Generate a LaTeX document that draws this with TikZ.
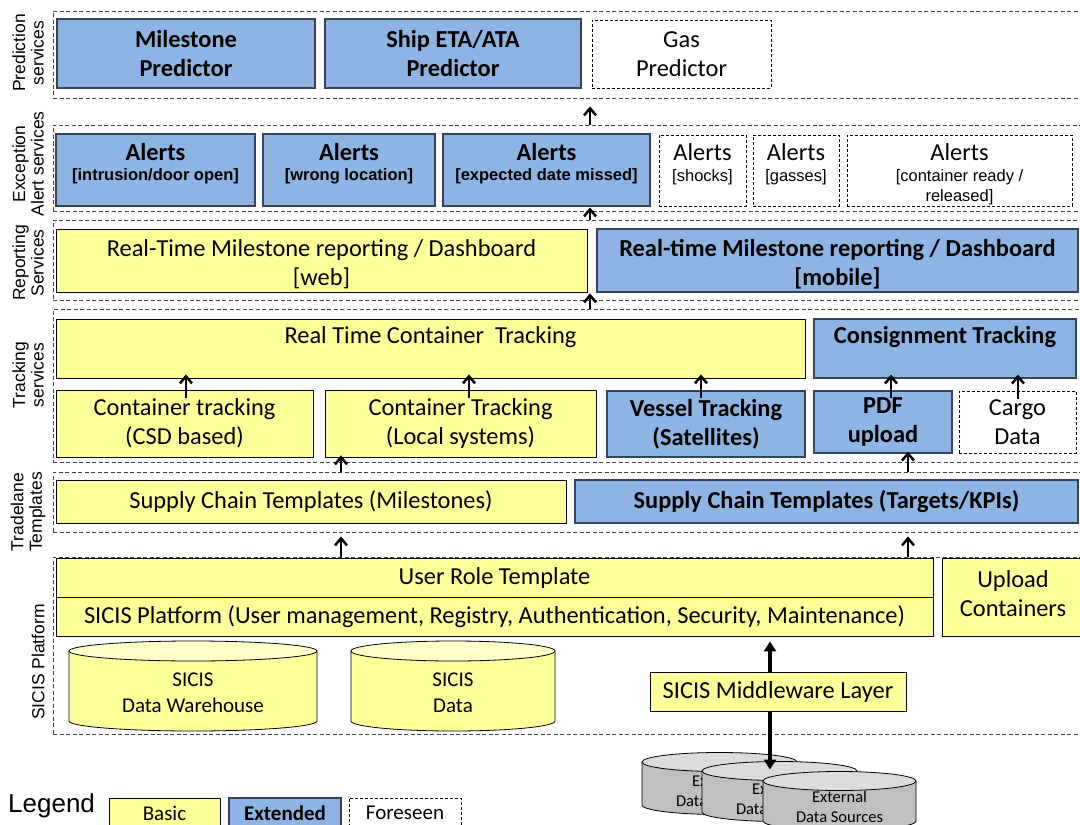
\documentclass[tikz,border=0pt]{standalone}
\usepackage{fontspec}
\setmainfont{Carlito}
\newfontfamily\arialf{Liberation Sans}
\usetikzlibrary{arrows.meta}
\definecolor{ybasic}{HTML}{FFFF99}
\definecolor{bext}{HTML}{8DB4E2}
\definecolor{gext}{HTML}{C0C0C0}
\definecolor{bdr}{HTML}{374358}
\newcommand\mainf{\fontsize{24.4}{29}\selectfont}
\newcommand\bx[7]{\node[#2, minimum width={(#5)-(#3)}, minimum height={(#6)-(#4)}] (#1) at ({((#3)+(#5))/2},{((#4)+(#6))/2}) {#7};}
\newcommand\cyl[7]{%
  \pgfmathsetmacro\crx{((#3)-(#2))/2}%
  \filldraw[fill=#6, draw=black, line width=0.8pt] (#2,#4) -- (#2,#5) arc[start angle=180, end angle=360, x radius=\crx pt, y radius=#7pt] -- (#3,#4);
  \filldraw[fill=#6!55!white, draw=black, line width=0.8pt] ({((#2)+(#3))/2},#4) ellipse[x radius=\crx pt, y radius=#7pt];
  \coordinate (#1) at ({((#2)+(#3))/2},{((#4)+(#5))/2});
  \coordinate (#1-top) at ({((#2)+(#3))/2},{(#4)-(#7)});
}
\tikzset{
  bsc/.style={draw=black, fill=ybasic, line width=0.8pt, inner sep=0pt, align=center},
  xtd/.style={draw=bdr, fill=bext, line width=1.3pt, inner sep=0pt, align=center, font=\mainf\bfseries},
  fsn/.style={draw=black, dash pattern=on 3pt off 2pt, line width=0.8pt, inner sep=0pt, align=center},
  lyr/.style={draw=black!75, dash pattern=on 4pt off 2.5pt, line width=0.9pt, inner sep=0pt},
  arr/.style={-{Straight Barb[length=7pt,width=12pt]}, line width=2.5pt},
  tri/.style={-{Triangle[length=10pt,width=12pt]}, line width=3.6pt},
  side/.style={rotate=90, align=center, font=\arialf\fontsize{17.5}{18.5}\selectfont, inner sep=0pt},
  txt/.style={inner sep=0pt, align=center},
  sub/.style={inner sep=0pt, align=center, font=\arialf\fontsize{16.5}{20}\selectfont},
}
\begin{document}
\begin{tikzpicture}[x=1pt, y=-1pt, font=\mainf]
\useasboundingbox (0,0) rectangle (1080,825);
% layers
\bx{predL}{lyr}{53}{11}{1084}{98}{}
\bx{alertL}{lyr}{53}{125}{1084}{211}{}
\bx{repL}{lyr}{53}{220}{1084}{300}{}
\bx{trackL}{lyr}{53}{309}{1084}{462}{}
\bx{tradeL}{lyr}{53}{472}{1084}{532}{}
\bx{sicisL}{lyr}{53}{557}{1084}{734}{}
% side labels
\node[side] (sl1) at (28,53) {Prediction\\services};
\node[side] (sl2) at (28,164) {Exception\\Alert services};
\node[side] (sl3) at (28,263) {Reporting\\Services};
\node[side] (sl4) at (28,375) {Tracking\\services};
\node[side] (sl5) at (28,512) {Tradelane\\Templates};
\node[side] (sl6) at (38,662) {SICIS Platform};
% prediction
\bx{mp}{xtd}{57}{19}{315}{88}{Milestone\\Predictor}
\bx{sp}{xtd}{325}{19}{581}{88}{Ship ETA/ATA\\Predictor}
\bx{gp}{fsn}{592}{20}{771}{88}{Gas\\Predictor}
% alerts
\bx{a1}{xtd}{56}{134}{255}{206}{}
\bx{a2}{xtd}{263}{134}{435}{206}{}
\bx{a3}{xtd}{443}{134}{650}{206}{}
\bx{a4}{fsn}{659}{135}{746}{206}{}
\bx{a5}{fsn}{753}{135}{839}{206}{}
\bx{a6}{fsn}{847}{135}{1072}{206}{}
\node[txt, font=\mainf\bfseries] (a1t) at (a1.center |- 0,152) {Alerts};
\node[sub, font=\arialf\fontsize{16.5}{20}\selectfont\bfseries] (a1s) at (a1.center |- 0,176) {[intrusion/door open]};
\node[txt, font=\mainf\bfseries] (a2t) at (a2.center |- 0,152) {Alerts};
\node[sub, font=\arialf\fontsize{16.5}{20}\selectfont\bfseries] (a2s) at (a2.center |- 0,176) {[wrong location]};
\node[txt, font=\mainf\bfseries] (a3t) at (a3.center |- 0,152) {Alerts};
\node[sub, font=\arialf\fontsize{16.5}{20}\selectfont\bfseries] (a3s) at (a3.center |- 0,176) {[expected date missed]};
\node[txt] (a4t) at (a4.center |- 0,152) {Alerts};
\node[sub] (a4s) at (a4.center |- 0,177) {[shocks]};
\node[txt] (a5t) at (a5.center |- 0,152) {Alerts};
\node[sub] (a5s) at (a5.center |- 0,177) {[gasses]};
\node[txt] (a6t) at (a6.center |- 0,152) {Alerts};
\node[sub, anchor=north] (a6s) at (a6.center |- 0,169.5) {[container ready /\\{}released]};
% reporting
\bx{web}{bsc}{56}{229}{587}{292}{}
\node[txt] (webt) at (web.center |- 0,264) {Real-Time Milestone reporting / Dashboard\\{[web]}};
\bx{mob}{xtd}{597}{229}{1078}{292}{}
\node[txt, font=\mainf\bfseries] (mobt) at (mob.center |- 0,264) {Real-time Milestone reporting / Dashboard\\{[mobile]}};
% tracking
\bx{rtct}{bsc}{56}{319}{805}{378}{}
\node[txt] (rtctt) at (rtct.center |- 0,337) {Real Time Container~ Tracking};
\bx{cons}{xtd}{814}{319}{1076}{378}{}
\node[txt, font=\mainf\bfseries] (const) at (cons.center |- 0,337) {Consignment Tracking};
\bx{ct1}{bsc}{56}{390}{313}{457}{Container tracking\\(CSD based)}
\bx{ct2}{bsc}{325}{390}{596}{457}{Container Tracking\\(Local systems)}
\bx{vt}{xtd}{607}{391}{805}{457}{Vessel Tracking\\(Satellites)}
\bx{pdf}{xtd}{814}{391}{952}{453}{PDF\\upload}
\bx{cargo}{fsn}{959}{391}{1076}{453}{Cargo\\Data}
% tradelane
\bx{sct}{bsc}{56}{480}{566}{523}{Supply Chain Templates (Milestones)}
\bx{sctk}{xtd}{575}{480}{1078}{523}{Supply Chain Templates (Targets/KPIs)}
% SICIS platform
\bx{urt}{bsc}{56}{558}{933}{597}{User Role Template}
\bx{plat}{bsc}{56}{597}{933}{636}{SICIS Platform (User management, Registry, Authentication, Security, Maintenance)}
\bx{upc}{bsc}{942}{558}{1084}{636}{}
\node[txt] (upct) at (upc.center |- 0,594) {Upload\\Containers};
\cyl{dw}{69}{317}{651}{721}{ybasic}{10}
\node[txt, font=\fontsize{21}{26}\selectfont] (dwt) at (dw |- 0,693) {SICIS\\Data Warehouse};
\cyl{sd}{351}{555}{651}{721}{ybasic}{10}
\node[txt, font=\fontsize{21}{26}\selectfont] (sdt) at (sd |- 0,693) {SICIS\\Data};
% external sources
\cyl{e1}{642}{797}{762}{805}{gext}{9.5}
\node[txt, font=\fontsize{16.5}{20}\selectfont] (e1t) at (e1 |- 0,791) {External\\Data Sources};
\cyl{e2}{702}{857}{771}{812}{gext}{9.5}
\node[txt, font=\fontsize{16.5}{20}\selectfont] (e2t) at (e2 |- 0,799) {External\\Data Sources};
\cyl{e3}{763}{916}{781}{821}{gext}{9.5}
\node[txt, font=\fontsize{16.5}{20}\selectfont] (e3t) at (e3 |- 0,807) {External\\Data Sources};
% middleware and double arrow
\coordinate (mwx) at (770,0);
\draw[tri] (mwx |- 0,680) -- ([yshift=-5pt]mwx |- plat.south);
\draw[tri] (mwx |- 0,700) -- ([yshift=-8pt]mwx |- e2-top);
\bx{mw}{bsc}{650}{672}{906}{711}{SICIS Middleware Layer}
% arrows between layers
\coordinate (c590) at (590,0);
\coordinate (c341) at (341,0);
\coordinate (c908) at (908,0);
\draw[arr, shorten >=8pt] (c590 |- alertL.north) -- (c590 |- predL.south);
\draw[arr, shorten >=-4pt] (c590 |- repL.north) -- (c590 |- alertL.south);
\draw[arr, shorten >=-7pt] (c590 |- trackL.north) -- (c590 |- repL.south);
\draw[arr, shorten <=-8pt, shorten >=-4pt] (186,0 |- ct1.north) -- (186,0 |- rtct.south);
\draw[arr, shorten <=-8pt, shorten >=-4pt] (469,0 |- ct2.north) -- (469,0 |- rtct.south);
\draw[arr, shorten <=-8pt, shorten >=-4pt] (701,0 |- vt.north) -- (701,0 |- rtct.south);
\draw[arr, shorten <=-8pt, shorten >=-4pt] (891,0 |- pdf.north) -- (891,0 |- cons.south);
\draw[arr, shorten <=-8pt, shorten >=-4pt] (1018,0 |- cargo.north) -- (1018,0 |- cons.south);
\draw[arr, shorten >=-2pt] (c341 |- tradeL.north) -- (c341 |- ct2.south);
\draw[arr, shorten >=-2pt] (c908 |- tradeL.north) -- (c908 |- pdf.south);
\draw[arr, shorten >=4pt] (c341 |- sicisL.north) -- (c341 |- tradeL.south);
\draw[arr, shorten >=4pt] (c908 |- sicisL.north) -- (c908 |- tradeL.south);
% legend
\node[anchor=west, inner sep=0pt, font=\arialf\fontsize{26}{28}\selectfont] (leg) at (8,806) {Legend};
\bx{lb}{bsc}{109}{798}{220}{828}{\fontsize{21}{24}\selectfont Basic}
\bx{le}{xtd}{229}{798}{341}{828}{\fontsize{21}{24}\selectfont\bfseries Extended}
\bx{lf}{fsn}{349}{798}{461}{828}{\fontsize{21}{24}\selectfont Foreseen}
\end{tikzpicture}
\end{document}
